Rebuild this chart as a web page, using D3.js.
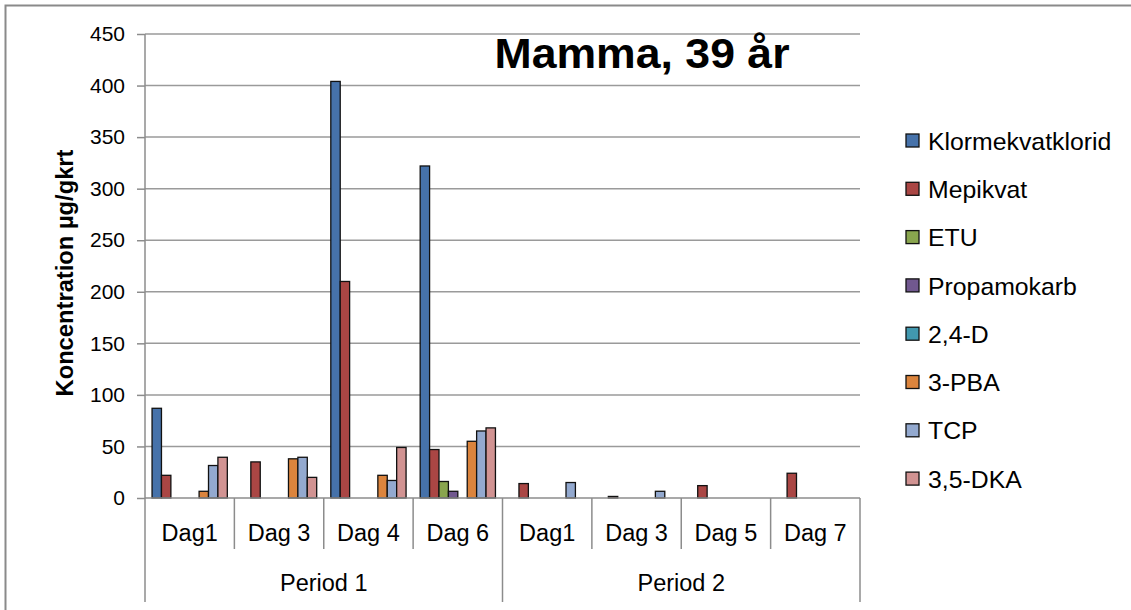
<!DOCTYPE html>
<html>
<head>
<meta charset="utf-8">
<script src="https://cdn.jsdelivr.net/npm/d3@7"></script>
<style>
  body { margin: 0; background: #fff; }
  svg { display: block; }
</style>
</head>
<body>
<svg id="chart" width="1131" height="610"></svg>
<script>
// Category structure: two sampling periods, four days each
const periods = ["Period 1", "Period 2"];
const periodDays = [
  ["Dag1", "Dag 3", "Dag 4", "Dag 6"],
  ["Dag1", "Dag 3", "Dag 5", "Dag 7"]
];

// Substances (series) and their colours
const seriesNames = ["Klormekvatklorid", "Mepikvat", "ETU", "Propamokarb", "2,4-D", "3-PBA", "TCP", "3,5-DKA"];
const seriesColors = ["#4672AA", "#AA4644", "#89A54E", "#71588F", "#4198AF", "#DB843D", "#93A9CF", "#D19392"];

// Concentrations (µg/g kreatinin) per category, null = not detected
const klormekvatklorid = [87, null, 404, 322, null, null, null, null];
const mepikvat         = [22, 35, 210, 47, 14, 1.5, 12, 24];
const etu              = [null, null, null, 16, null, null, null, null];
const propamokarb      = [null, null, null, 6.5, null, null, null, null];
const d24              = [null, null, null, null, null, null, null, null];
const pba3             = [6.5, 38, 22, 55, null, null, null, null];
const tcp              = [31.5, 39.5, 17, 65, 15, 6.5, null, null];
const dka35            = [39.5, 20, 49, 68, null, null, null, null];

const yTicks = [0, 50, 100, 150, 200, 250, 300, 350, 400, 450];

const seriesValues = [klormekvatklorid, mepikvat, etu, propamokarb, d24, pba3, tcp, dka35];

// Flattened category list
const categories = [];
periods.forEach((p, pi) => periodDays[pi].forEach((d, di) => categories.push({ id: pi + "-" + di, period: pi, day: d })));

const svg = d3.select("#chart");
const W = 1131, H = 610;

// Plot area
const plotLeft = 145, plotRight = 860, plotTop = 34, plotBottom = 498;

const x = d3.scaleBand().domain(categories.map(c => c.id)).range([plotLeft, plotRight]).paddingInner(0).paddingOuter(0);
const xs = d3.scaleBand().domain(seriesNames).range([0, x.bandwidth()]).paddingInner(0).paddingOuter(0.75);
const y = d3.scaleLinear().domain([0, 450]).range([plotBottom, plotTop]);

const gridColor = "#9a9a9a";
const axisColor = "#8c8c8c";
const font = "'Liberation Sans', Arial, sans-serif";

// Outer chart border
svg.append("rect")
  .attr("x", 5.5).attr("y", 5.5)
  .attr("width", W + 50).attr("height", H + 50)
  .attr("fill", "#fff").attr("stroke", "#8a8a8a").attr("stroke-width", 2);

// Horizontal gridlines
svg.append("g").selectAll("line")
  .data(yTicks.filter(t => t > 0))
  .join("line")
  .attr("x1", plotLeft).attr("x2", plotRight)
  .attr("y1", d => y(d)).attr("y2", d => y(d))
  .attr("stroke", gridColor).attr("stroke-width", 1.5);

// Y axis with outward ticks
const yAxis = d3.axisLeft(y).tickValues(yTicks).tickSize(8).tickPadding(12).tickFormat(d3.format("d"));
const gy = svg.append("g").attr("transform", `translate(${plotLeft},0)`).call(yAxis);
gy.select(".domain").remove();
gy.selectAll(".tick line").attr("stroke", axisColor).attr("stroke-width", 1.5);
gy.selectAll(".tick text")
  .attr("font-family", font).attr("font-size", 21).attr("fill", "#000");

// Bars
const barGroups = svg.append("g").selectAll("g")
  .data(seriesNames)
  .join("g")
  .attr("fill", (d, i) => seriesColors[i]);

barGroups.selectAll("rect")
  .data((s, si) => categories.map((c, ci) => ({ s, c, v: seriesValues[si][ci] })).filter(d => d.v != null))
  .join("rect")
  .attr("x", d => x(d.c.id) + xs(d.s))
  .attr("width", xs.bandwidth())
  .attr("y", d => y(d.v))
  .attr("height", d => y(0) - y(d.v))
  .attr("stroke", "#111").attr("stroke-width", 1.3);

// Vertical axis line, continued down as leftmost category divider
svg.append("line")
  .attr("x1", plotLeft).attr("x2", plotLeft).attr("y1", plotTop).attr("y2", 602)
  .attr("stroke", axisColor).attr("stroke-width", 1.5);

// Baseline
svg.append("line")
  .attr("x1", plotLeft).attr("x2", plotRight).attr("y1", y(0)).attr("y2", y(0))
  .attr("stroke", axisColor).attr("stroke-width", 1.5);

// Category dividers: day boundaries short, period boundaries long
const dayRowBottom = 549, periodRowBottom = 602;
const dividers = categories.map((c, i) => ({ xpos: x(c.id) + x.bandwidth(), end: (i % 4 === 3) ? periodRowBottom : dayRowBottom }));
svg.append("g").selectAll("line")
  .data(dividers)
  .join("line")
  .attr("x1", d => d.xpos).attr("x2", d => d.xpos)
  .attr("y1", y(0)).attr("y2", d => d.end)
  .attr("stroke", axisColor).attr("stroke-width", 1.5);

// Day labels
svg.append("g").selectAll("text")
  .data(categories)
  .join("text")
  .attr("x", d => x(d.id) + x.bandwidth() / 2)
  .attr("y", 533)
  .attr("dy", "0.35em")
  .attr("text-anchor", "middle")
  .attr("font-family", font).attr("font-size", 23.5)
  .text(d => d.day);

// Period labels
svg.append("g").selectAll("text")
  .data(periods)
  .join("text")
  .attr("x", (d, i) => (x(i + "-0") + x(i + "-3") + x.bandwidth()) / 2)
  .attr("y", 583)
  .attr("dy", "0.35em")
  .attr("text-anchor", "middle")
  .attr("font-family", font).attr("font-size", 23.5)
  .text(d => d);

// Y axis title
svg.append("text")
  .attr("transform", `translate(73,273) rotate(-90)`)
  .attr("text-anchor", "middle")
  .attr("font-family", font).attr("font-weight", "bold").attr("font-size", 24)
  .attr("textLength", 247).attr("lengthAdjust", "spacingAndGlyphs")
  .text("Koncentration µg/gkrt");

// Chart title
svg.append("text")
  .attr("x", 642).attr("y", 68)
  .attr("text-anchor", "middle")
  .attr("font-family", font).attr("font-weight", "bold").attr("font-size", 43)
  .attr("textLength", 295).attr("lengthAdjust", "spacingAndGlyphs")
  .text("Mamma, 39 år");

// Legend
const legend = svg.append("g").selectAll("g")
  .data(seriesNames)
  .join("g")
  .attr("transform", (d, i) => `translate(906,${141 + i * 48.3})`);
legend.append("rect")
  .attr("x", 0).attr("y", -7).attr("width", 13).attr("height", 13)
  .attr("fill", (d, i) => seriesColors[i]).attr("stroke", "#111").attr("stroke-width", 1.3);
legend.append("text")
  .attr("x", 22).attr("y", 0).attr("dy", "0.35em")
  .attr("font-family", font).attr("font-size", 24.8)
  .text(d => d);
</script>
</body>
</html>
